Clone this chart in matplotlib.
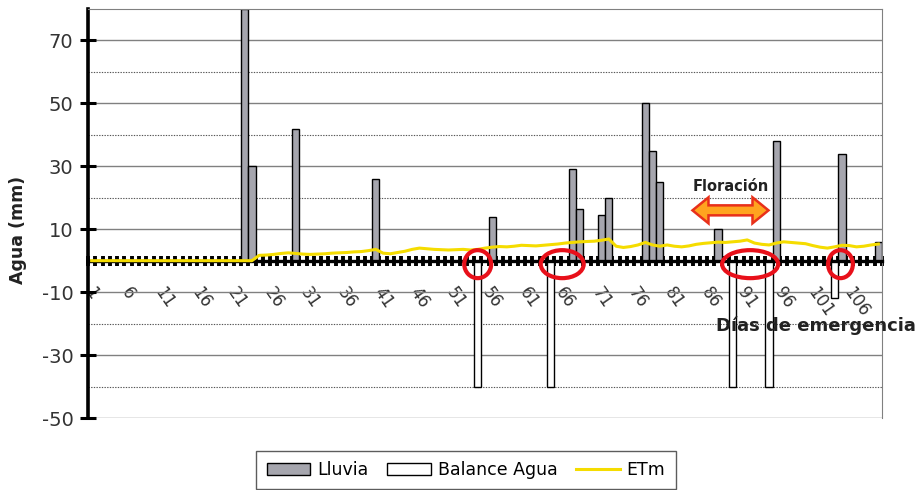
import numpy as np
import matplotlib.pyplot as plt
import matplotlib.patches as mpatches
import matplotlib.transforms as mtransforms

plt.rcParams['axes.unicode_minus'] = False

# dias de emergencia 1..109
dias = np.arange(1, 110)
etiquetas_x = [1, 6, 11, 16, 21, 26, 31, 36, 41, 46, 51, 56, 61, 66, 71, 76,
               81, 86, 91, 96, 101, 106]

lluvia_dias = [22, 23, 29, 40, 56, 67, 68, 71, 72, 77, 78, 79, 87, 95, 104, 109]
lluvia_mm = [80, 30, 42, 26, 14, 29, 16.5, 14.5, 20, 50, 35, 25, 10, 38, 34, 6]

balance_dias = [54, 64, 89, 94, 103]
balance_mm = [-40, -40, -40, -40, -12]

etm = [0.0, 0.0, 0.0, 0.0, 0.0, 0.0, 0.0, 0.0, 0.0, 0.0,
       0.0, 0.0, 0.0, 0.0, 0.0, 0.0, 0.0, 0.0, 0.0, 0.0,
       0.0, 0.0, 0.0, 1.7, 1.8, 2.0, 2.3, 2.5, 2.3, 2.1,
       2.0, 2.1, 2.2, 2.4, 2.5, 2.6, 2.8, 2.9, 3.2, 3.6,
       2.4, 2.2, 2.6, 3.0, 3.6, 4.0, 3.8, 3.6, 3.5, 3.4,
       3.5, 3.6, 3.4, 3.6, 4.0, 4.3, 4.5, 4.4, 4.6, 4.9,
       4.8, 4.7, 4.9, 5.1, 5.3, 5.6, 5.8, 6.0, 6.1, 6.2,
       6.5, 6.9, 4.6, 4.2, 4.5, 5.0, 5.8, 5.0, 4.6, 5.0,
       4.6, 4.4, 4.7, 5.2, 5.5, 5.7, 5.9, 5.8, 6.0, 6.2,
       6.6, 5.6, 5.2, 5.0, 5.6, 6.0, 5.8, 5.6, 5.4, 4.8,
       4.3, 4.0, 4.4, 4.9, 4.8, 4.4, 4.6, 5.0, 5.3]

# circulos rojos (centro en dias, ancho en dias)
circ_x = [54.0, 65.6, 91.4, 103.8]
circ_w = [3.7, 5.9, 7.7, 3.4]

fig = plt.figure(figsize=(9.2, 4.9), dpi=100)
ax = fig.add_axes([88 / 920, 1 - 418 / 490, 794 / 920, 409 / 490])

b1 = ax.bar(lluvia_dias, lluvia_mm, width=1.0, color='#a6a6ae', edgecolor='black',
            linewidth=1, label='Lluvia', zorder=2)
b2 = ax.bar(balance_dias, balance_mm, width=1.0, color='white', edgecolor='black',
            linewidth=1, label='Balance Agua', zorder=2)
l1, = ax.plot(dias, etm, color='#f5dc00', lw=2.2, label='ETm', zorder=4)

ax.set_xlim(0.5, 109.5)
ax.set_ylim(-50, 80)

ax.set_yticks([70, 50, 30, 10, -10, -30, -50])
ax.set_yticks([60, 40, 20, -20, -40], minor=True)
ax.grid(which='major', axis='y', color='#808080', lw=1)
ax.grid(which='minor', axis='y', color='#555555', lw=0.8, ls=(0, (1.2, 1.2)))
ax.set_axisbelow(True)

ax.tick_params(axis='y', which='major', direction='inout', length=11, width=2.2,
               color='black', labelsize=14, labelcolor='#333333', pad=5)
ax.tick_params(axis='y', which='minor', length=0)

ax.set_xticks(etiquetas_x)
ax.set_xticklabels([str(d) for d in etiquetas_x])
ax.set_xticks(np.arange(0.5, 110, 1), minor=True)
ax.tick_params(axis='x', which='major', length=0, pad=17, labelsize=12,
               labelcolor='#333333', labelrotation=-55)
ax.tick_params(axis='x', which='minor', direction='inout', length=7.5, width=2.8,
               color='black')
for lab in ax.get_xticklabels():
    lab.set_ha('left')
    lab.set_va('top')

ax.spines['bottom'].set_position(('data', 0))
ax.spines['bottom'].set_linewidth(2.4)
ax.spines['bottom'].set_zorder(3)
ax.spines['left'].set_linewidth(2.6)
ax.spines['top'].set_color('#808080')
ax.spines['right'].set_color('#808080')

for cx, cw in zip(circ_x, circ_w):
    ax.add_patch(mpatches.Ellipse((cx, -1.1), cw, 8.9, fill=False,
                                  edgecolor='#e8101a', lw=3, zorder=6))

# flecha doble de floracion
tr = fig.dpi_scale_trans + mtransforms.ScaledTranslation(88.7, 16, ax.transData)
verts = np.array([(-38, 0), (-22, 13), (-22, 5), (22, 5), (22, 13), (38, 0),
                  (22, -13), (22, -5), (-22, -5), (-22, -13)]) / 100
ax.add_patch(mpatches.Polygon(verts, closed=True, transform=tr, facecolor='#ffa41f',
                              edgecolor='#e8301a', lw=1.8, zorder=6))
ax.text(88.7, 23.7, 'Floración', ha='center', va='center', fontsize=10.5,
        fontweight='bold', color='#222222', zorder=7)

ax.text(100.4, -20.8, 'Días de emergencia', ha='center', va='center', fontsize=13,
        fontweight='bold', color='#222222', zorder=7)
fig.text(18 / 920, 1 - 230 / 490, 'Agua (mm)', rotation=90, ha='center', va='center',
         fontsize=12.5, fontweight='bold', color='#222222')

leg = fig.legend(handles=[b1, b2, l1], loc='center',
                 bbox_to_anchor=(466 / 920, 1 - 470 / 490), ncol=3,
                 fontsize=12.5, frameon=True, fancybox=False, edgecolor='#333333',
                 handlelength=2.5, handleheight=0.75, columnspacing=1.1,
                 handletextpad=0.4, borderpad=0.6)
leg.get_frame().set_linewidth(1)

fig.savefig('out.png', dpi=100)
